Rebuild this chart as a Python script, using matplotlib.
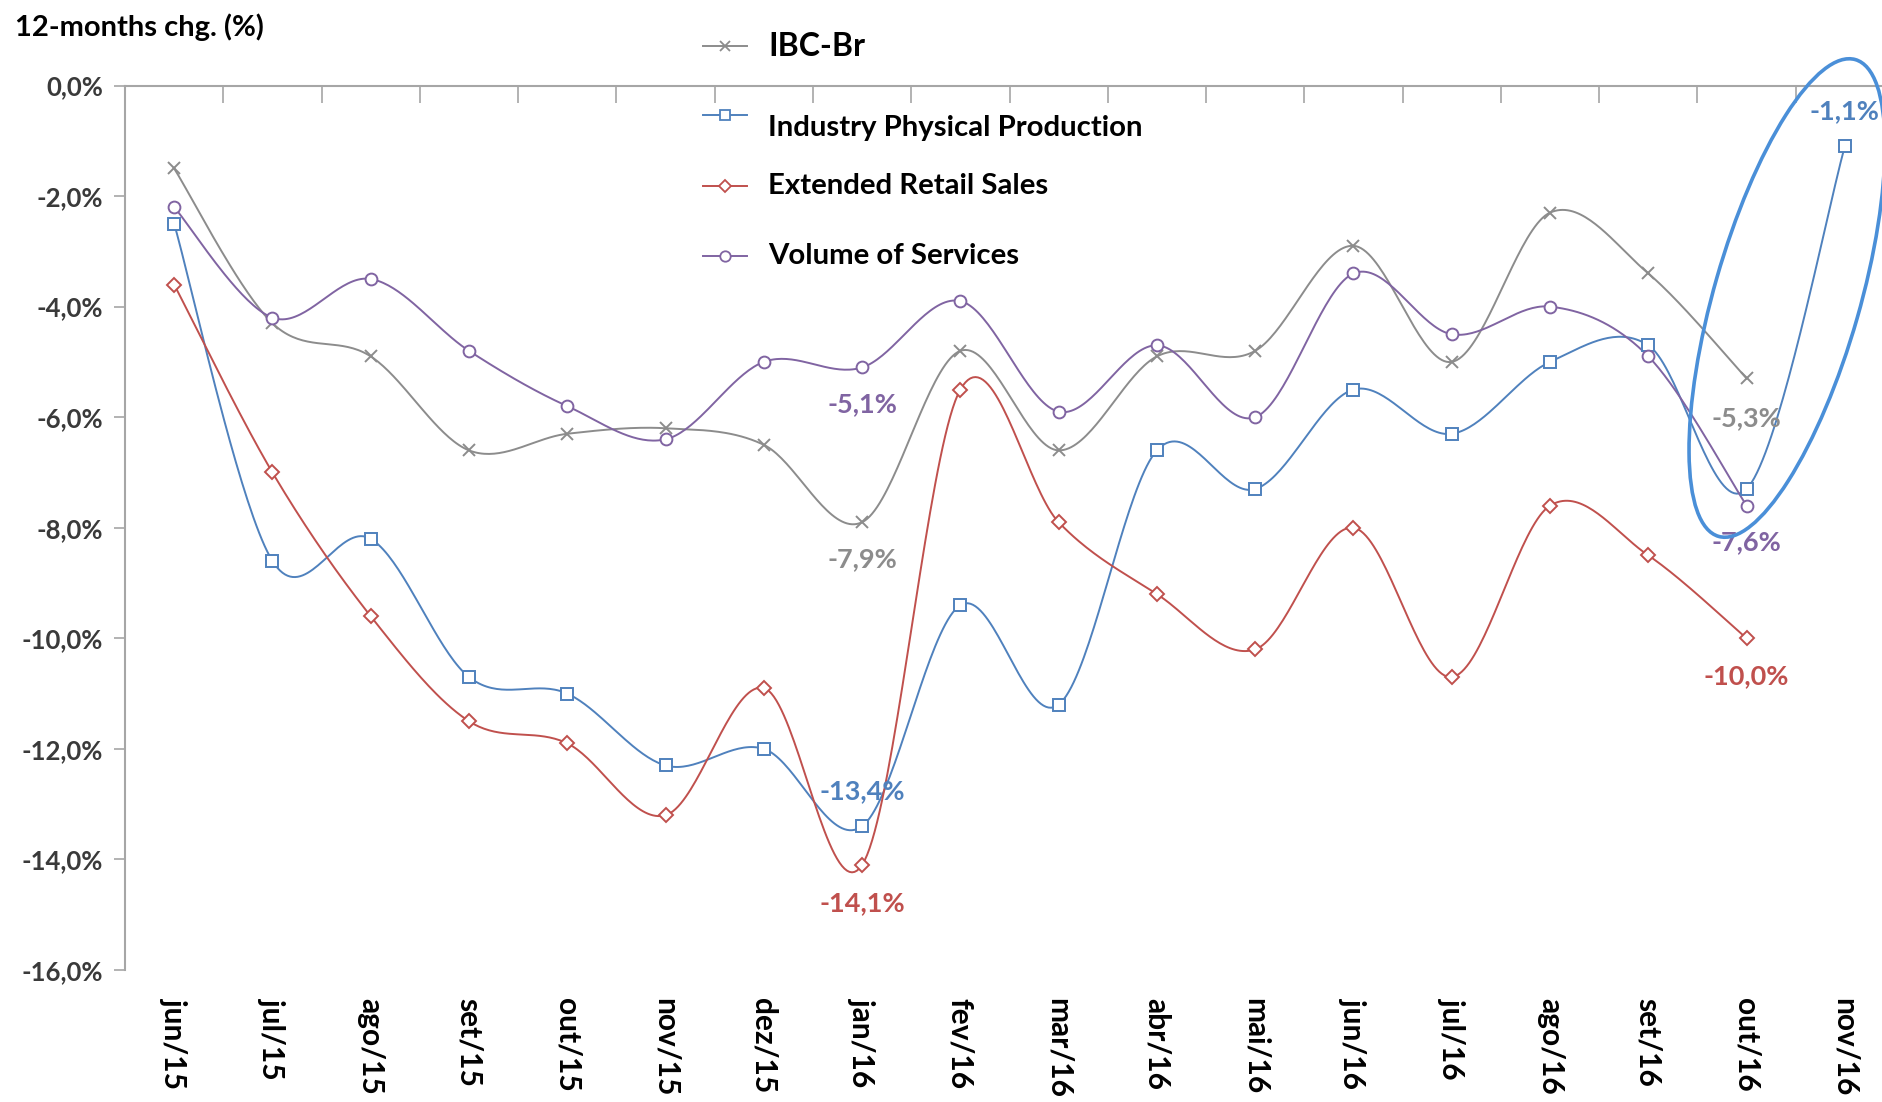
import numpy as np
import matplotlib
matplotlib.use("Agg")
import matplotlib.pyplot as plt
from matplotlib.lines import Line2D
from matplotlib.patches import Ellipse

plt.rcParams['font.family'] = ['Lato', 'DejaVu Sans']

months = ["jun/15", "jul/15", "ago/15", "set/15", "out/15", "nov/15", "dez/15",
          "jan/16", "fev/16", "mar/16", "abr/16", "mai/16", "jun/16", "jul/16",
          "ago/16", "set/16", "out/16", "nov/16"]

ibc_br = [-1.5, -4.3, -4.9, -6.6, -6.3, -6.2, -6.5, -7.9, -4.8, -6.6, -4.9,
          -4.8, -2.9, -5.0, -2.3, -3.4, -5.3]
industry = [-2.5, -8.6, -8.2, -10.7, -11.0, -12.3, -12.0, -13.4, -9.4, -11.2,
            -6.6, -7.3, -5.5, -6.3, -5.0, -4.7, -7.3, -1.1]
retail = [-3.6, -7.0, -9.6, -11.5, -11.9, -13.2, -10.9, -14.1, -5.5, -7.9,
          -9.2, -10.2, -8.0, -10.7, -7.6, -8.5, -10.0]
services = [-2.2, -4.2, -3.5, -4.8, -5.8, -6.4, -5.0, -5.1, -3.9, -5.9, -4.7,
            -6.0, -3.4, -4.5, -4.0, -4.9, -7.6]

y_ticks = [0, -2, -4, -6, -8, -10, -12, -14, -16]

GRAY = "#8C8C8C"
BLUE = "#4F81BD"
RED = "#C0504D"
PURPLE = "#8064A2"
AXIS = "#A6A6A6"


def smooth(xs, ys, n=40):
    """Cubic Bezier spline through every point (Catmull-Rom tangents)."""
    pts = np.column_stack([xs, ys]).astype(float)
    ext = np.vstack([pts[0], pts, pts[-1]])
    out = []
    t = np.linspace(0, 1, n)[:, None]
    for i in range(len(pts) - 1):
        p0, p1, p2, p3 = ext[i], ext[i + 1], ext[i + 2], ext[i + 3]
        c1 = p1 + (p2 - p0) / 6.0
        c2 = p2 - (p3 - p1) / 6.0
        seg = ((1 - t) ** 3) * p1 + 3 * ((1 - t) ** 2) * t * c1 \
            + 3 * (1 - t) * t ** 2 * c2 + t ** 3 * p2
        out.append(seg if i == 0 else seg[1:])
    c = np.vstack(out)
    return c[:, 0], c[:, 1]


W, H = 1883, 1102
fig = plt.figure(figsize=(W / 100, H / 100), dpi=100)
ax = fig.add_axes([125 / W, (H - 970) / H, 1769 / W, (970 - 85.5) / H])

series = [
    (ibc_br, GRAY, "x", "IBC-Br"),
    (industry, BLUE, "s", "Industry Physical Production"),
    (retail, RED, "D", "Extended Retail Sales"),
    (services, PURPLE, "o", "Volume of Services"),
]

for vals, col, mk, name in series:
    x = np.arange(len(vals))
    sx, sy = smooth(x, vals)
    ax.plot(sx, sy, color=col, lw=1.4, zorder=2)
    ms = 7 if mk == "D" else 8.5
    ax.plot(x, vals, linestyle="none", marker=mk, ms=ms, mfc="white",
            mec=col, mew=1.4, color=col, zorder=3)

ax.set_xlim(-0.5, 17.5)
ax.set_ylim(-16, 0)

# y axis
ax.set_yticks(y_ticks)
ax.set_yticklabels([f"{v:.1f}%".replace(".", ",") for v in y_ticks],
                   fontsize=18.5, fontweight="bold", color="#3A3A3A")
ax.tick_params(axis="y", which="major", direction="out", length=8,
               width=1.2, color=AXIS, pad=8)

# x axis: category labels below, boundary ticks on the zero line
ax.set_xticks(np.arange(len(months)))
ax.set_xticklabels(months, rotation=-90, fontsize=21.5, fontweight="bold",
                   color="black")
ax.set_xticks(np.arange(len(months) + 1) - 0.5, minor=True)
ax.tick_params(axis="x", which="major", length=0, pad=20)
ax.tick_params(axis="x", which="minor", top=True, bottom=False,
               direction="in", length=12, width=1.2, color=AXIS)

for side in ["right", "bottom"]:
    ax.spines[side].set_visible(False)
for side in ["left", "top"]:
    ax.spines[side].set_color(AXIS)
    ax.spines[side].set_linewidth(1.5)

# value labels
def label(i, vals, col, dy):
    v = vals[i]
    ax.annotate(f"{v:.1f}%".replace(".", ","), (i, v), xytext=(0, dy),
                textcoords="offset pixels", ha="center", va="center",
                fontsize=19.5, fontweight="bold", color=col, zorder=4)

label(7, services, PURPLE, -37)
label(7, ibc_br, GRAY, -37)
label(7, industry, BLUE, 35)
label(7, retail, RED, -38)
label(16, ibc_br, GRAY, -40)
label(16, services, PURPLE, -37)
label(16, retail, RED, -38)
label(17, industry, BLUE, 35)

# legend
leg_rows = [(46, 46, 23), (115, 128, 21.2), (186, 186, 21.2), (256, 256, 21.2)]
for (vals, col, mk, name), (ym, yt, fs) in zip(series, leg_rows):
    ms = 6 if mk == "D" else 7.5
    fig.add_artist(Line2D([703 / W, 747 / W], [1 - ym / H, 1 - ym / H],
                          color=col, lw=1.4, marker=None,
                          transform=fig.transFigure))
    fig.add_artist(Line2D([725 / W], [1 - ym / H], color=col, marker=mk,
                          ms=ms, mfc="white", mec=col, mew=1.3,
                          transform=fig.transFigure))
    fig.text(768 / W, 1 - yt / H, name, fontsize=fs, fontweight="bold",
             color="black", ha="left", va="center")

fig.text(15 / W, 1 - 27 / H, "12-months chg. (%)", fontsize=21,
         fontweight="bold", color="black", ha="left", va="center")

# highlight around the latest readings
fig.add_artist(Ellipse((17.87, 8.04), 4.96, 1.46, angle=74,
                       transform=fig.dpi_scale_trans, fill=False,
                       edgecolor="#4A8FD8", lw=2.6))

fig.savefig("out.png", dpi=100, facecolor="white")
